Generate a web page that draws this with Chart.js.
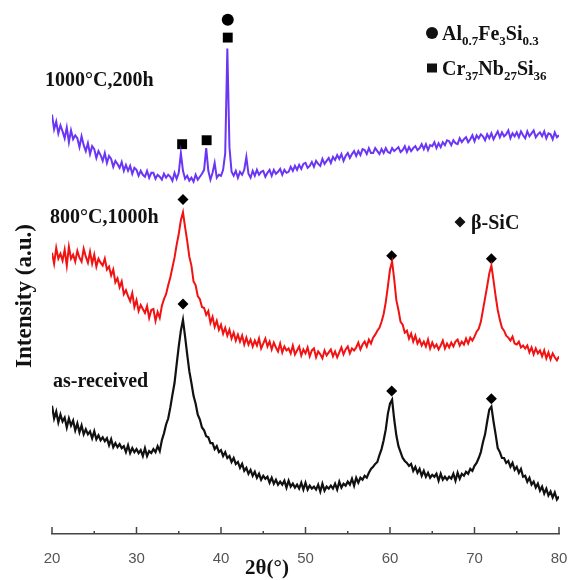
<!DOCTYPE html>
<html>
<head>
<meta charset="utf-8">
<script src="https://cdn.jsdelivr.net/npm/chart.js@4/dist/chart.umd.min.js"></script>
<style>
html,body{margin:0;padding:0;background:#fff;}
canvas{display:block;}
</style>
</head>
<body>
<canvas id="c" width="569" height="580"></canvas>
<script>
// 2θ (degrees), 0.25° steps from 20 to 80
const twoTheta = [];
for (let i = 0; i <= 240; i++) twoTheta.push(20 + i * 0.25);

// Intensities (a.u.)
const blue1000C200h = [
425,410,418,406, 414,408,401,412, 397,409,400,404, 401,392,403,394, 388,396,385,393,
390,381,388,384, 378,386,376,383, 380,372,378,375, 371,377,368,374, 368,373,365,371,
369,363,368,364, 362,368,361,366, 366,360,364,362, 359,365,361,364, 362,358,366,360,
366,386,368,360, 363,358,361,357, 364,359,362,365, 369,391,368,359, 366,376,361,364,
363,369,386,492, 392,367,363,368, 361,367,364,369, 382,365,361,368, 363,369,364,367,
368,362,366,369, 363,369,365,367, 370,364,369,366, 367,372,368,373, 369,374,370,375,
376,371,373,377, 372,378,375,373, 380,375,378,381, 376,382,379,384, 380,385,378,383,
386,381,385,388, 383,388,384,390, 389,385,391,386, 386,391,388,385, 390,386,391,387,
386,391,388,390, 392,387,389,393, 387,392,388,391, 393,389,391,395, 390,395,389,394,
393,397,391,396, 392,397,394,399, 398,394,399,396, 395,401,397,400, 402,397,400,404,
398,404,401,405, 403,399,405,401, 406,400,404,408, 402,407,403,405, 409,401,406,403,
407,402,408,404, 401,408,403,406, 409,402,405,407, 403,408,401,406, 405,400,407,402,
404];
const red800C1000h = [
285,274,290,279, 284,277,288,272, 291,279,283,276, 287,280,276,289, 281,275,286,274,
283,271,279,275, 272,279,268,271, 262,268,255,259, 250,256,243,247, 241,236,244,230,
237,226,232,228, 224,231,219,227, 228,216,225,219, 231,238,243,252, 260,270,280,293,
304,318,326,311, 297,281,272,256, 252,241,238,230, 229,222,226,214, 220,210,216,207,
212,203,209,201, 207,198,204,196, 202,195,201,192, 199,192,197,190, 196,191,198,188,
193,198,190,195, 187,194,189,185, 193,184,190,186, 188,183,191,182, 186,190,181,187,
183,189,180,186, 188,179,185,182, 178,186,181,184, 187,180,185,179, 184,189,182,187,
190,183,188,186, 189,194,187,192, 195,190,197,193, 199,202,206,209, 215,223,235,251,
268,276,258,237, 227,215,212,204, 206,198,203,195, 201,193,197,191, 195,190,197,188,
194,189,192,187, 191,196,188,193, 189,194,190,195, 197,191,195,192, 198,193,199,196,
200,205,208,215, 227,239,251,264, 272,257,241,227, 217,209,206,201, 199,196,200,193,
192,195,189,191, 188,191,184,189, 182,188,183,186, 180,186,178,184, 177,183,179,176,
180];
const blackAsReceived = [
130,117,124,113, 121,114,118,108, 117,110,115,105, 112,103,110,101, 106,101,104,97,
104,96,100,95, 98,94,97,90, 96,88,92,88, 91,87,89,83, 90,82,87,83,
86,82,85,79, 87,79,84,82, 86,83,89,84, 95,102,111,117, 128,141,153,172,
190,206,217,200, 182,165,153,140, 132,121,116,108, 105,99,98,92, 92,86,89,83,
85,79,83,77, 79,73,77,71, 73,67,71,64, 67,61,65,59, 63,57,61,55,
59,56,58,52, 57,51,55,50, 53,50,54,47, 54,48,51,47, 50,46,52,45,
52,45,49,46, 48,45,50,43, 51,44,48,46, 49,46,51,45, 53,47,51,49,
53,50,56,49, 57,52,57,55, 59,57,62,66, 68,71,73,80, 86,95,106,122,
132,136,116,100, 89,83,77,74, 72,69,71,64, 68,62,66,59, 64,58,62,57,
60,58,61,54, 61,55,58,55, 58,56,61,54, 62,56,61,59, 63,61,66,64,
69,72,77,83, 93,101,114,126, 129,114,101,87, 83,77,77,72, 74,68,72,65,
68,62,66,58, 59,53,57,50, 53,47,51,44, 48,41,46,39, 43,37,42,35,
38];

// Phase markers placed at peak positions
const markerX     = [40.8, 40.8, 35.4, 38.3, 35.5, 60.2, 72.0, 35.5, 60.2, 72.0];
const markerY     = [521, 503, 395, 399, 339, 282, 279, 233, 145, 137];
const markerStyle = ['circle','rect','rect','rect','rectRot','rectRot','rectRot','rectRot','rectRot','rectRot'];
const markerSize  = [6, 7, 7, 7, 5.5, 5.5, 5.5, 5.5, 5.5, 5.5];

const xTicks = [20, 30, 40, 50, 60, 70, 80];
const curveLabels = ['1000°C,200h', '800°C,1000h', 'as-received'];

const toXY = arr => twoTheta.map((x, i) => ({x: x, y: arr[i]}));
const SERIF = '"Liberation Serif", "Times New Roman", serif';

const decor = {
  id: 'decor',
  afterDraw(chart) {
    const ctx = chart.ctx;
    const xs = chart.scales.x;
    const yb = chart.chartArea.bottom;
    ctx.save();
    // tick marks pointing up
    ctx.strokeStyle = '#444';
    ctx.lineWidth = 1.5;
    for (let v = 20; v <= 80; v += 5) {
      const px = xs.getPixelForValue(v);
      ctx.beginPath();
      ctx.moveTo(px, yb);
      ctx.lineTo(px, yb - (v % 10 === 0 ? 7 : 3));
      ctx.stroke();
    }
    ctx.fillStyle = '#111';
    ctx.textBaseline = 'alphabetic';
    ctx.textAlign = 'left';
    ctx.font = 'bold 20px ' + SERIF;
    ctx.fillText(curveLabels[0], 45, 86);
    ctx.fillText(curveLabels[1], 50, 223);
    ctx.fillText(curveLabels[2], 53, 387);
    // x title
    ctx.textAlign = 'center';
    ctx.font = 'bold 21px ' + SERIF;
    ctx.fillText('2θ(°)', 267, 574);
    // y title
    ctx.save();
    ctx.translate(31, 296);
    ctx.rotate(-Math.PI / 2);
    ctx.font = 'bold 23px ' + SERIF;
    ctx.fillText('Intensity (a.u.)', 0, 0);
    ctx.restore();
    // legend
    ctx.textAlign = 'left';
    const sub = (parts, x, y) => {
      for (const [t, s] of parts) {
        ctx.font = s ? 'bold 13px ' + SERIF : 'bold 20px ' + SERIF;
        ctx.fillText(t, x, s ? y + 5 : y);
        x += ctx.measureText(t).width;
      }
    };
    ctx.beginPath();
    ctx.arc(432, 33, 6, 0, Math.PI * 2);
    ctx.fill();
    sub([['Al',0],['0.7',1],['Fe',0],['3',1],['Si',0],['0.3',1]], 442, 40);
    ctx.fillRect(427, 63.5, 10, 9);
    sub([['Cr',0],['37',1],['Nb',0],['27',1],['Si',0],['36',1]], 442, 75);
    ctx.beginPath();
    ctx.moveTo(460, 216.5); ctx.lineTo(465.5, 222); ctx.lineTo(460, 227.5); ctx.lineTo(454.5, 222);
    ctx.closePath();
    ctx.fill();
    ctx.font = 'bold 20px ' + SERIF;
    ctx.fillText('β-SiC', 471, 229);
    ctx.restore();
  }
};

new Chart(document.getElementById('c'), {
  type: 'line',
  data: {
    datasets: [
      {label: '1000°C,200h', data: toXY(blue1000C200h), borderColor: '#6a35f5', borderWidth: 2},
      {label: '800°C,1000h', data: toXY(red800C1000h), borderColor: '#f21212', borderWidth: 2},
      {label: 'as-received', data: toXY(blackAsReceived), borderColor: '#111111', borderWidth: 2.2},
      {type: 'scatter', label: 'phases', data: markerX.map((x, i) => ({x: x, y: markerY[i]})),
       pointStyle: markerStyle, pointRadius: markerSize, backgroundColor: '#000', borderColor: '#000',
       borderWidth: 0, showLine: false, clip: false}
    ]
  },
  options: {
    responsive: false,
    animation: false,
    devicePixelRatio: 1,
    layout: {padding: {left: 52, right: 10, top: 0, bottom: 0}},
    elements: {point: {radius: 0}, line: {tension: 0}},
    plugins: {legend: {display: false}, tooltip: {enabled: false}},
    scales: {
      x: {
        type: 'linear', min: 20, max: 80,
        afterBuildTicks: s => { s.ticks = xTicks.map(v => ({value: v})); },
        afterFit: s => { s.height = 46; s.paddingLeft = 0; s.paddingRight = 0; },
        ticks: {font: {family: '"Liberation Sans", Arial, sans-serif', size: 15}, color: '#555', padding: 8},
        grid: {display: false},
        border: {display: true, color: '#444', width: 1.5}
      },
      y: {display: false, min: 0, max: 534}
    }
  },
  plugins: [decor]
});
</script>
</body>
</html>
